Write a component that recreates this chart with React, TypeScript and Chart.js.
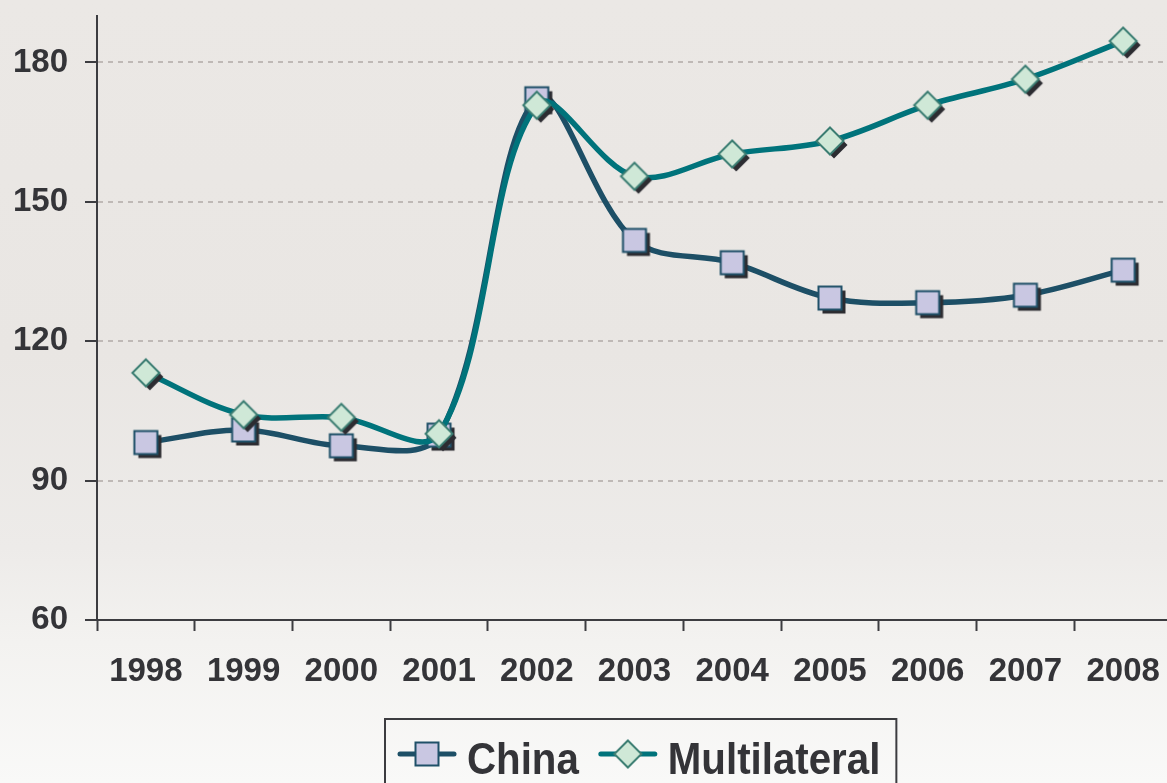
import React, { useEffect, useRef } from "react";
import { Chart, registerables } from "chart.js";

Chart.register(...registerables);

const years = ["1998", "1999", "2000", "2001", "2002", "2003", "2004", "2005", "2006", "2007", "2008"];
const china = [98.2, 100.9, 97.5, 99.8, 172.2, 141.7, 136.9, 129.3, 128.3, 129.9, 135.3];
const multilateral = [113.2, 104.2, 103.6, 100.1, 170.8, 155.5, 160.3, 163.1, 170.8, 176.4, 184.6];
const yTicks = [60, 90, 120, 150, 180];
const seriesNames = ["China", "Multilateral"];

const FONT = "'Liberation Sans', Arial, Helvetica, sans-serif";
const TEXT = "#343438";
const AXIS = "#3c3c40";
const CHINA_LINE = "#1d4f66";
const MULTI_LINE = "#00737b";

function makeMarker(kind: "square" | "diamond", shadow: boolean): HTMLCanvasElement {
  const c = document.createElement("canvas");
  c.width = 38;
  c.height = 38;
  const ctx = c.getContext("2d")!;
  const cx = 19;
  const cy = 19;
  const path = (ox: number, oy: number) => {
    ctx.beginPath();
    if (kind === "square") {
      ctx.rect(cx - 11.5 + ox, cy - 11.5 + oy, 23, 23);
    } else {
      const r = 13.5;
      ctx.moveTo(cx + ox, cy - r + oy);
      ctx.lineTo(cx + r + ox, cy + oy);
      ctx.lineTo(cx + ox, cy + r + oy);
      ctx.lineTo(cx - r + ox, cy + oy);
      ctx.closePath();
    }
  };
  if (shadow) {
    path(4, 4);
    ctx.fillStyle = "#2c2c31";
    ctx.fill();
  }
  path(0, 0);
  ctx.fillStyle = kind === "square" ? "#c9c7e2" : "#cfe8d7";
  ctx.fill();
  ctx.lineWidth = 2;
  ctx.strokeStyle = kind === "square" ? "#1f5068" : "#3b7d72";
  ctx.stroke();
  return c;
}

const boxLegend = {
  id: "boxLegend",
  afterDraw(chart: any) {
    const ctx: CanvasRenderingContext2D = chart.ctx;
    const area = chart.chartArea;
    const ds = chart.data.datasets;
    const scaleX = 0.915;
    ctx.save();
    ctx.font = `bold 44px ${FONT}`;
    const padL = 12, symW = 60, gapText = 10, gapItem = 19, padR = 16;
    const widths = ds.map((d: any) => ctx.measureText(d.label).width * scaleX);
    let total = padL + padR;
    widths.forEach((w: number, i: number) => {
      total += symW + gapText + w + (i > 0 ? gapItem : 0);
    });
    const centerX = (area.left + area.right) / 2 + 6;
    const left = Math.round(centerX - total / 2);
    const top = area.bottom + 99;
    ctx.lineWidth = 2;
    ctx.strokeStyle = AXIS;
    ctx.strokeRect(left, top, total, 120);
    let x = left + padL;
    const symY = top + 35;
    ds.forEach((d: any, i: number) => {
      if (i > 0) x += gapItem;
      ctx.beginPath();
      ctx.lineCap = "round";
      ctx.lineWidth = 5;
      ctx.strokeStyle = d.borderColor;
      ctx.moveTo(x + 3, symY);
      ctx.lineTo(x + symW - 3, symY);
      ctx.stroke();
      const img = d.legendMarker as HTMLCanvasElement;
      ctx.drawImage(img, x + symW / 2 - img.width / 2, symY - img.height / 2);
      x += symW + gapText;
      ctx.save();
      ctx.translate(x, top + 55);
      ctx.scale(scaleX, 1);
      ctx.fillStyle = TEXT;
      ctx.textBaseline = "alphabetic";
      ctx.textAlign = "left";
      ctx.fillText(d.label, 0, 0);
      ctx.restore();
      x += widths[i];
    });
    ctx.restore();
  },
};

export default function App() {
  const ref = useRef<HTMLCanvasElement>(null);
  useEffect(() => {
    if (!ref.current) return;
    const chart = new Chart(ref.current, {
      type: "line",
      data: {
        labels: years,
        datasets: [
          {
            label: seriesNames[0],
            data: china,
            borderColor: CHINA_LINE,
            borderWidth: 5.5,
            tension: 0.35,
            pointStyle: makeMarker("square", true) as any,
            pointRadius: 12,
            order: 1,
            legendMarker: makeMarker("square", false),
          } as any,
          {
            label: seriesNames[1],
            data: multilateral,
            borderColor: MULTI_LINE,
            borderWidth: 5.5,
            tension: 0.35,
            pointStyle: makeMarker("diamond", true) as any,
            pointRadius: 12,
            order: 0,
            legendMarker: makeMarker("diamond", false),
          } as any,
        ],
      },
      options: {
        responsive: false,
        animation: false,
        events: [],
        layout: { autoPadding: false, padding: { left: 0, right: 3, top: 16, bottom: 80 } },
        plugins: {
          legend: { display: false },
          tooltip: { enabled: false },
        },
        scales: {
          x: {
            type: "category",
            offset: true,
            border: { display: true, color: AXIS, width: 2 },
            grid: {
              display: true,
              offset: true,
              drawOnChartArea: false,
              drawTicks: true,
              tickLength: 11,
              tickColor: AXIS,
              tickWidth: 2,
              color: AXIS,
            },
            ticks: {
              color: TEXT,
              padding: 21,
              maxRotation: 0,
              autoSkip: false,
              font: { family: FONT, size: 33, weight: "bold" },
            },
            afterFit: (s: any) => {
              s.height = 100;
              s.paddingLeft = 0;
              s.paddingRight = 0;
            },
          },
          y: {
            min: 60,
            max: 190,
            border: { display: true, color: AXIS, width: 2, dash: [5, 5] },
            grid: {
              color: "#bfb9b6",
              lineWidth: 2,
              tickLength: 12,
              tickColor: AXIS,
              tickWidth: 2,
              tickBorderDash: [],
            },
            ticks: {
              stepSize: 30,
              color: TEXT,
              padding: 17,
              font: { family: FONT, size: 33, weight: "bold" },
            },
            afterBuildTicks: (s: any) => {
              s.ticks = yTicks.map((v) => ({ value: v }));
            },
            afterFit: (s: any) => {
              s.width = 97;
              s.paddingTop = 0;
              s.paddingBottom = 0;
            },
          },
        },
      },
      plugins: [boxLegend],
    });
    return () => chart.destroy();
  }, []);

  return (
    <div
      style={{
        position: "fixed",
        left: 0,
        top: 0,
        width: 1167,
        height: 783,
        overflow: "hidden",
        background:
          "linear-gradient(to bottom, #ebe8e5 0%, #e9e6e3 45%, #edebe9 70%, #f3f2f0 82%, #f9f9f8 100%)",
      }}
    >
      <canvas ref={ref} width={1175} height={800} style={{ display: "block" }} />
    </div>
  );
}
